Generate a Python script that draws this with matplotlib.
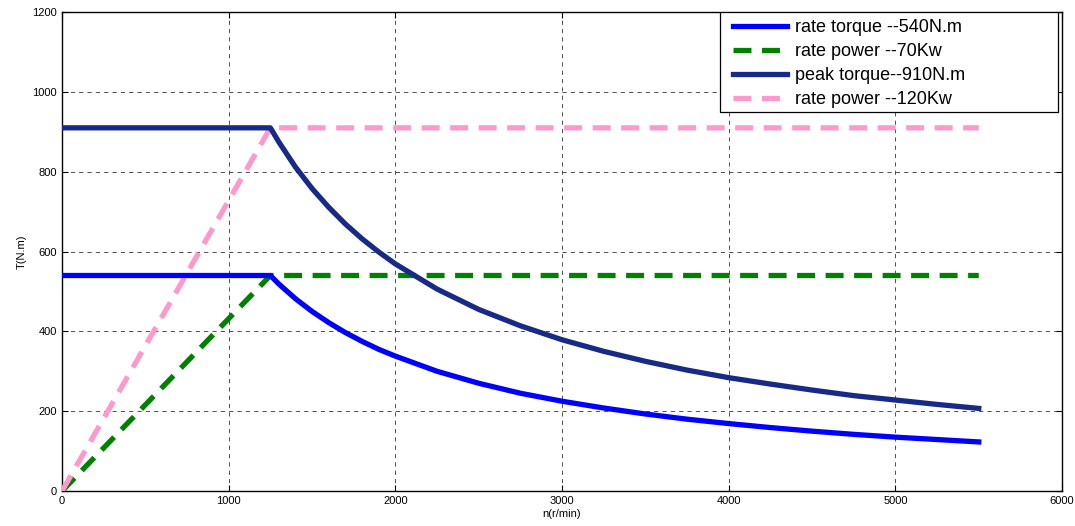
"""Motor torque-speed characteristic: rated vs peak."""
import matplotlib.pyplot as plt
from matplotlib.patches import Rectangle

plt.rcParams['font.family'] = ['Liberation Sans', 'DejaVu Sans']

# speed points (r/min)
speed = [0, 1250, 1300, 1400, 1500, 1600, 1700, 1800, 1900, 2000, 2250, 2500, 2750,
         3000, 3250, 3500, 3750, 4000, 4250, 4500, 4750, 5000, 5250, 5500]
torque_rate = [540, 540, 519, 482, 450, 422, 397, 375, 355, 338, 300, 270, 245,
               225, 208, 193, 180, 169, 159, 150, 142, 135, 129, 123]
torque_peak = [910, 910, 875, 812, 758, 711, 669, 632, 599, 569, 506, 455, 414,
               379, 350, 325, 303, 284, 268, 253, 239, 228, 217, 207]

speed_pow = [0, 1250, 5500]
torque_pow70 = [0, 540, 540]
torque_pow120 = [0, 910, 910]

labels = ['rate torque --540N.m', 'rate power --70Kw',
          'peak torque--910N.m', 'rate power --120Kw']

fig = plt.figure(figsize=(10.75, 5.26), dpi=100)
ax = fig.add_axes([0.0577, 0.0665, 0.9303, 0.9105])

lw = 3.8
dash = (0, (3.4, 2.0))
ax.plot(speed, torque_rate, color='#0000ff', lw=lw, label=labels[0], zorder=4)
ax.plot(speed_pow, torque_pow70, color='#008000', lw=lw, ls=dash, label=labels[1], zorder=3)
ax.plot(speed, torque_peak, color='#172a88', lw=lw, label=labels[2], zorder=4)
ax.plot(speed_pow, torque_pow120, color='#ff99cc', lw=lw, ls=dash, label=labels[3], zorder=3)

ax.set_xlim(0, 6000)
ax.set_ylim(0, 1200)
ax.set_xticks(range(0, 6001, 1000))
ax.set_yticks(range(0, 1201, 200))
ax.tick_params(direction='in', labelsize=8, length=4, top=True, right=True)
ax.grid(True, color='#333333', ls=(0, (5, 5)), lw=0.6)
for s in ax.spines.values():
    s.set_linewidth(1.0)

ax.set_xlabel('n(r/min)', fontsize=8, labelpad=2)
ax.set_ylabel('T(N.m)', fontsize=8, labelpad=4)

# MATLAB-style legend box with wide right padding
ax.add_patch(Rectangle((0.658, 0.791), 0.338, 0.209, transform=ax.transAxes,
                       facecolor='white', edgecolor='black', lw=0.9, zorder=5))
leg = ax.legend(loc='upper left', bbox_to_anchor=(0.662, 1.003), fontsize=13,
                frameon=False, handlelength=3.0, handletextpad=0.45,
                labelspacing=0.39, borderpad=0.47, borderaxespad=0.0)
leg.set_zorder(6)

fig.savefig('out.png', dpi=100)
